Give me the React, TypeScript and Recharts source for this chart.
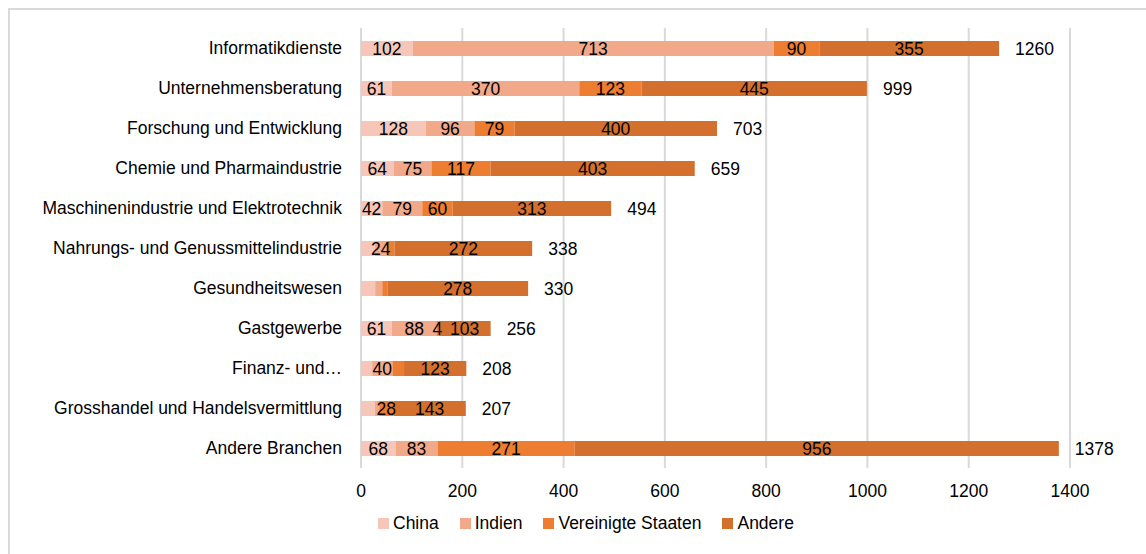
import React from 'react';
import { BarChart, Bar, XAxis, YAxis, CartesianGrid, Legend, LabelList } from 'recharts';

const categories = [
  'Informatikdienste',
  'Unternehmensberatung',
  'Forschung und Entwicklung',
  'Chemie und Pharmaindustrie',
  'Maschinenindustrie und Elektrotechnik',
  'Nahrungs- und Genussmittelindustrie',
  'Gesundheitswesen',
  'Gastgewerbe',
  'Finanz- und…',
  'Grosshandel und Handelsvermittlung',
  'Andere Branchen',
];
const china = [102, 61, 128, 64, 42, 27, 28, 61, 22, 27, 68];
const indien = [713, 370, 96, 75, 79, 24, 14, 88, 40, 9, 83];
const vereinigteStaaten = [90, 123, 79, 117, 60, 15, 10, 4, 23, 28, 271];
const andere = [355, 445, 400, 403, 313, 272, 278, 103, 123, 143, 956];
const totals = [1260, 999, 703, 659, 494, 338, 330, 256, 208, 207, 1378];

// which value labels are shown in the original (1 = shown)
const chinaShown = [1, 1, 1, 1, 1, 0, 0, 1, 0, 0, 1];
const indienShown = [1, 1, 1, 1, 1, 1, 0, 1, 1, 0, 1];
const usShown = [1, 1, 1, 1, 1, 0, 0, 1, 0, 1, 1];
const andereShown = [1, 1, 1, 1, 1, 1, 1, 1, 1, 1, 1];

const xTicks = [0, 200, 400, 600, 800, 1000, 1200, 1400];

const seriesNames = ['China', 'Indien', 'Vereinigte Staaten', 'Andere'];
const seriesColors = ['#F6C7B8', '#F1A98A', '#ED7D31', '#D4702D'];

const data = categories.map((name, i) => ({
  name,
  china: china[i],
  indien: indien[i],
  us: vereinigteStaaten[i],
  andere: andere[i],
  total: totals[i],
  chinaLabel: chinaShown[i] ? china[i] : '',
  indienLabel: indienShown[i] ? indien[i] : '',
  usLabel: usShown[i] ? vereinigteStaaten[i] : '',
  andereLabel: andereShown[i] ? andere[i] : '',
}));

const FONT = '"Liberation Sans", Arial, sans-serif';
const FS = 17.5;

const renderLegend = () => (
  <div style={{ display: 'flex', alignItems: 'center', fontFamily: FONT, fontSize: FS, color: '#000', lineHeight: '24px' }}>
    {seriesNames.map((n, i) => (
      <div key={n} style={{ display: 'flex', alignItems: 'center', marginRight: 21 }}>
        <div style={{ width: 11, height: 11, background: seriesColors[i], marginRight: 4 }} />
        <span>{n}</span>
      </div>
    ))}
  </div>
);

const labelStyle = { fontFamily: FONT, fontSize: FS, fill: '#000' };

export default function App() {
  return (
    <div style={{ position: 'fixed', left: 0, top: 0, width: 1146, height: 554, overflow: 'hidden', background: '#fff' }}>
      <div
        style={{
          position: 'absolute',
          left: 8,
          top: 8,
          width: 1200,
          height: 600,
          borderTop: '2px solid #d9d9d9',
          borderLeft: '2px solid #d9d9d9',
        }}
      />
      <div style={{ position: 'absolute', left: 0, top: 0 }}>
        <BarChart
          width={1146}
          height={554}
          data={data}
          layout="vertical"
          margin={{ top: 28, right: 76, left: 0, bottom: 26 }}
          barSize={15}
        >
          <CartesianGrid horizontal={false} stroke="#d9d9d9" strokeWidth={2} />
          <XAxis
            type="number"
            domain={[0, 1400]}
            ticks={xTicks}
            axisLine={false}
            tickLine={false}
            tickSize={0}
            tickMargin={17}
            height={36}
            tick={{ fontFamily: FONT, fontSize: FS, fill: '#000' }}
          />
          <YAxis
            type="category"
            dataKey="name"
            width={361}
            axisLine={false}
            tickLine={false}
            tickSize={0}
            tickMargin={19}
            interval={0}
            tick={{ fontFamily: FONT, fontSize: FS, fill: '#000' }}
          />
          <Legend
            verticalAlign="bottom"
            content={renderLegend}
            wrapperStyle={{ left: 378, top: 511, bottom: 'auto', width: 'auto' }}
          />
          <Bar dataKey="china" stackId="a" fill={seriesColors[0]} name={seriesNames[0]} isAnimationActive={false}>
            <LabelList dataKey="chinaLabel" position="center" style={labelStyle} />
          </Bar>
          <Bar dataKey="indien" stackId="a" fill={seriesColors[1]} name={seriesNames[1]} isAnimationActive={false}>
            <LabelList dataKey="indienLabel" position="center" style={labelStyle} />
          </Bar>
          <Bar dataKey="us" stackId="a" fill={seriesColors[2]} name={seriesNames[2]} isAnimationActive={false}>
            <LabelList dataKey="usLabel" position="center" style={labelStyle} />
          </Bar>
          <Bar dataKey="andere" stackId="a" fill={seriesColors[3]} name={seriesNames[3]} isAnimationActive={false}>
            <LabelList dataKey="andereLabel" position="center" style={labelStyle} />
            <LabelList dataKey="total" position="right" offset={16} style={labelStyle} />
          </Bar>
        </BarChart>
      </div>
    </div>
  );
}
